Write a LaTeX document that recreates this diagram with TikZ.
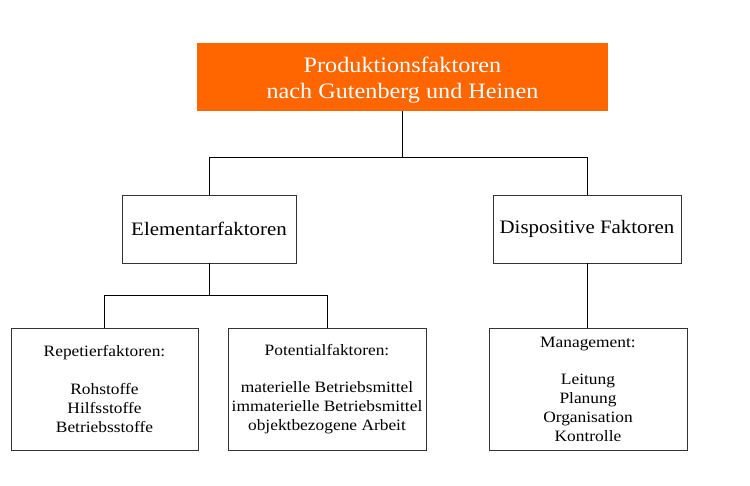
\documentclass[tikz,border=0pt]{standalone}
\usepackage{fontspec}
\setmainfont{Liberation Serif}[FakeStretch=1.1]
\definecolor{topor}{HTML}{FF6600}
\definecolor{boxline}{HTML}{333333}
\begin{document}
\begin{tikzpicture}[x=1pt,y=-1pt,
  topbox/.style={fill=topor,draw=none,minimum width=411pt,minimum height=68pt,inner sep=0pt},
  toptext/.style={text=white,align=center,font=\fontsize{22}{26}\selectfont,inner sep=0pt},
  midbox/.style={draw=boxline,line width=0.9pt,fill=white,minimum height=68pt,
    align=center,font=\fontsize{19}{21}\selectfont,inner sep=0pt},
  lowbox/.style={draw=boxline,line width=0.9pt,fill=white,minimum height=122pt,
    align=center,font=\fontsize{15.8}{18.8}\selectfont,inner sep=0pt},
  conn/.style={draw=black,line width=0.8pt}]
\useasboundingbox (0,0) rectangle (750,486);
\node[topbox] (top) at (402.5,77) {};
\node[toptext] (toplabel) at (402.5,80) {Produktionsfaktoren\\nach Gutenberg und Heinen};
\node[midbox,minimum width=174pt] (elem) at (209,229) {Elementarfaktoren};
\node[midbox,minimum width=188pt] (disp) at (587,229) {Dispositive Faktoren};
\node[lowbox,minimum width=187pt] (rep) at (104.5,389) {Repetierfaktoren:\\[18.8pt]Rohstoffe\\Hilfsstoffe\\Betriebsstoffe};
\node[lowbox,minimum width=198pt] (pot) at (327,389) {Potentialfaktoren:\\[18.8pt]materielle Betriebsmittel\\immaterielle Betriebsmittel\\objektbezogene Arbeit};
\node[lowbox,minimum width=198pt] (man) at (588,389) {Management:\\[18.8pt]Leitung\\Planung\\Organisation\\Kontrolle};
\draw[conn] (top.south) -- ++(0,46) coordinate (j1);
\draw[conn] (elem.north) |- (j1) -| (disp.north);
\draw[conn] (elem.south) -- ++(0,32) coordinate (j2);
\draw[conn] (rep.north) |- (j2) -| (pot.north);
\draw[conn] (disp.south) -- (disp.south |- man.north);
\end{tikzpicture}
\end{document}
